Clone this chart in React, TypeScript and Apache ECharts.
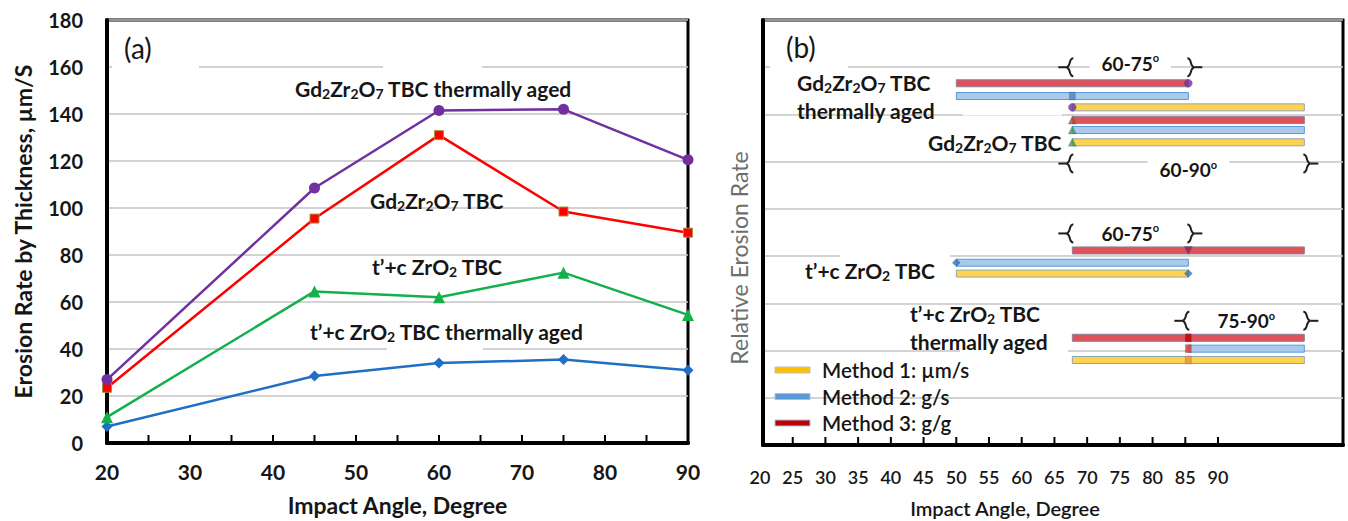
import React, { useEffect, useRef } from 'react';
import * as echarts from 'echarts';

// ---------- Panel (a) data ----------
const anglesA = [20, 45, 60, 75, 90];
const gdAged = [27, 108.5, 141.5, 142, 120.5];
const gdTbc = [23.5, 95.5, 131, 98.5, 89.5];
const ztTbc = [11, 64.5, 62, 72.5, 54.5];
const ztAged = [7, 28.5, 34, 35.5, 31];
const tickAnglesA = [25, 30, 35, 40, 45, 50, 55, 60, 65, 70, 75, 80, 85];

// ---------- Panel (b) data ----------
const barStart = [45, 45, 60, 60, 60, 60, 60, 45, 45, 60, 75, 60];
const barEnd = [75, 75, 90, 90, 90, 90, 90, 75, 75, 90, 90, 90];
const barLevel = [7.66, 7.39, 7.15, 6.88, 6.67, 6.41, 4.12, 3.86, 3.63, 2.27, 2.04, 1.8];
const barMethod = [3, 2, 1, 3, 2, 1, 3, 2, 1, 3, 2, 1];
const tickAnglesB = [25, 30, 35, 40, 45, 50, 55, 60, 65, 70, 75, 80, 85, 90];

const markX = [75, 60, 60, 60, 60, 60, 75, 45, 75, 75, 75, 75];
const markY = [7.66, 7.39, 7.15, 6.88, 6.67, 6.41, 4.12, 3.86, 3.63, 2.27, 2.04, 1.8];
const markShape = ['circle', 'rect', 'circle', 'triangle', 'triangle', 'triangle', 'triangle', 'diamond', 'diamond', 'rect', 'rect', 'rect'];
const markColor = ['#7030A0', '#4F81C7', '#7030A0', '#A0522D', '#3C9A5F', '#3C9A5F', '#7B2D5E', '#2E75B6', '#2E75B6', '#C00000', '#E03030', '#E8923C'];

const bracketFrom = [60, 60, 60, 75];
const bracketTo = [75, 90, 75, 90];
const bracketLevel = [8.0, 5.96, 4.48, 2.63];
const bracketText = ['60-75', '60-90', '60-75', '75-90'];
const bracketTextDy = [-4, 6, 0, 0];

const methodNames = ['Method 1: µm/s', 'Method 2: g/s', 'Method 3: g/g'];
const methodFill = ['#FFD34D', '#A9CAEC', '#E0525A'];
const methodStroke = ['#8EA6BF', '#5B9BD5', '#8E7F9A'];
const legendFill = ['#FFC000', '#5B9BD5', '#C00000'];
const legendStroke = ['#BFBFBF', '#9DC3E6', '#9DC3E6'];

const FONT = 'Lato, "Open Sans", sans-serif';
const INK = '#161616';

const richLabel = (size: number) => ({
  s: { fontSize: Math.round(size * 0.68), fontWeight: 'bold', fontFamily: FONT, fill: INK, lineHeight: 14, verticalAlign: 'bottom' },
});

function label(text: string, x: number, y: number, size = 21) {
  return {
    type: 'text',
    x,
    y,
    z: 20,
    style: {
      text,
      fontSize: size,
      fontWeight: 'bold',
      fontFamily: FONT,
      fill: INK,
      align: 'left',
      verticalAlign: 'middle',
      lineHeight: 24,
      rich: richLabel(size),
    },
  };
}

function gap(x0: number, x1: number, y: number) {
  return { type: 'rect', z: 5, shape: { x: x0, y: y - 2.5, width: x1 - x0, height: 5 }, style: { fill: '#fff' } };
}

function tickSeries(values: number[], axisIndex: number) {
  return {
    type: 'custom',
    name: 'ticks' + axisIndex,
    xAxisIndex: axisIndex,
    yAxisIndex: axisIndex,
    z: 8,
    clip: false,
    silent: true,
    data: values.map((v) => [v, 0]),
    renderItem: (params: any, api: any) => {
      const p = api.coord([api.value(0), 0]);
      return {
        type: 'line',
        shape: { x1: p[0], y1: p[1] - 1, x2: p[0], y2: p[1] - 8 },
        style: { stroke: '#000', lineWidth: 2 },
      };
    },
  };
}

export default function App() {
  const ref = useRef<HTMLDivElement>(null);
  useEffect(() => {
    if (!ref.current) return;
    const chart = echarts.init(ref.current, undefined, { renderer: 'svg' });

    const lineSeries = (name: string, vals: number[], color: string, symbol: string, size: number, extra: any = {}) => ({
      name,
      type: 'line',
      xAxisIndex: 0,
      yAxisIndex: 0,
      data: anglesA.map((a, i) => [a, vals[i]]),
      symbol,
      symbolSize: size,
      lineStyle: { color, width: 2.5 },
      itemStyle: { color, ...extra },
      clip: false,
    });

    const legendGraphics: any[] = [];
    methodNames.forEach((n, i) => {
      const y = 370 + i * 26.5;
      legendGraphics.push({ type: 'rect', z: 20, shape: { x: 775, y: y - 3, width: 35, height: 6 }, style: { fill: legendFill[i], stroke: legendStroke[i], lineWidth: 1 } });
      legendGraphics.push({ type: 'text', z: 20, x: 822, y, style: { text: n, fontSize: 20.5, fontWeight: 600, fontFamily: FONT, fill: INK, align: 'left', verticalAlign: 'middle' } });
    });

    const option: any = {
      animation: false,
      backgroundColor: '#fff',
      grid: [
        { left: 107, top: 20, width: 581, height: 424, show: true, borderColor: '#000', borderWidth: 3, backgroundColor: 'transparent' },
        { left: 763, top: 20, width: 580, height: 425, show: true, borderColor: '#000', borderWidth: 3, backgroundColor: 'transparent' },
        { left: 760, top: 20, width: 458, height: 425 },
      ],
      xAxis: [
        {
          gridIndex: 0, type: 'value', min: 20, max: 90, interval: 5,
          axisLine: { show: true, lineStyle: { color: '#000', width: 4 } },
          axisTick: { show: false },
          axisLabel: { formatter: (v: number) => (v % 10 === 0 ? String(v) : ''), margin: 18, fontFamily: FONT, fontWeight: 'bold', fontSize: 21, color: INK },
          splitLine: { show: false },
          name: 'Impact Angle, Degree', nameLocation: 'middle', nameGap: 50,
          nameTextStyle: { fontFamily: FONT, fontWeight: 'bold', fontSize: 23, color: INK },
        },
        {
          gridIndex: 1, type: 'value', min: 20, max: 95,
          axisLine: { show: true, lineStyle: { color: '#000', width: 4 } },
          axisTick: { show: false }, axisLabel: { show: false }, splitLine: { show: false },
        },
        {
          gridIndex: 2, type: 'value', min: 20, max: 90, interval: 5,
          axisLine: { show: false },
          axisTick: { show: false },
          axisLabel: { margin: 23, fontFamily: FONT, fontWeight: 600, fontSize: 18, color: INK },
          splitLine: { show: false },
        },
      ],
      yAxis: [
        {
          gridIndex: 0, type: 'value', min: 0, max: 180, interval: 20,
          axisLine: { show: true, lineStyle: { color: '#000', width: 4 } },
          axisTick: { show: false },
          axisLabel: { margin: 24, fontFamily: FONT, fontWeight: 'bold', fontSize: 20, color: INK },
          splitLine: { show: true, lineStyle: { color: '#c4c4c4', width: 1.5 } },
          name: 'Erosion Rate by Thickness, µm/S', nameLocation: 'middle', nameGap: 73,
          nameTextStyle: { fontFamily: FONT, fontWeight: 'bold', fontSize: 23, color: INK },
        },
        {
          gridIndex: 1, type: 'value', min: 0, max: 9, interval: 1,
          axisLine: { show: true, lineStyle: { color: '#000', width: 4 } },
          axisTick: { show: false }, axisLabel: { show: false },
          splitLine: { show: true, lineStyle: { color: '#c4c4c4', width: 1.5 } },
        },
        {
          gridIndex: 2, type: 'value', min: 0, max: 9,
          axisLine: { show: false }, axisTick: { show: false }, axisLabel: { show: false }, splitLine: { show: false },
        },
      ],
      series: [
        tickSeries(tickAnglesA, 0),
        tickSeries(tickAnglesB, 2),
        lineSeries("t'+c ZrO2 TBC thermally aged", ztAged, '#1F6FC5', 'diamond', 11),
        lineSeries("t'+c ZrO2 TBC", ztTbc, '#13B04B', 'triangle', 12),
        lineSeries('Gd2Zr2O7 TBC', gdTbc, '#FF0000', 'rect', 9, { borderColor: '#A89040', borderWidth: 1 }),
        lineSeries('Gd2Zr2O7 TBC thermally aged', gdAged, '#7030A0', 'circle', 11),
        {
          type: 'custom',
          name: 'ranges',
          xAxisIndex: 1,
          yAxisIndex: 1,
          data: barStart.map((s, i) => [s, barEnd[i], barLevel[i], barMethod[i]]),
          encode: { x: [0, 1], y: 2 },
          renderItem: (params: any, api: any) => {
            const p0 = api.coord([api.value(0), api.value(2)]);
            const p1 = api.coord([api.value(1), api.value(2)]);
            const m = api.value(3) - 1;
            return {
              type: 'rect',
              shape: { x: p0[0], y: p0[1] - 3.5, width: p1[0] - p0[0], height: 7 },
              style: { fill: methodFill[m], stroke: methodStroke[m], lineWidth: 1 },
            };
          },
        },
        {
          type: 'scatter',
          name: 'markers',
          xAxisIndex: 1,
          yAxisIndex: 1,
          symbolSize: 8,
          z: 4,
          data: markX.map((x, i) => ({
            value: [x, markY[i]],
            symbol: markShape[i],
            symbolRotate: i === 6 ? 180 : 0,
            symbolSize: markShape[i] === 'rect' ? [6, 8] : 8,
            itemStyle: { color: markColor[i], borderColor: 'rgba(60,60,90,0.5)', borderWidth: 0.5 },
          })),
        },
        {
          type: 'custom',
          name: 'brackets',
          xAxisIndex: 1,
          yAxisIndex: 1,
          z: 6,
          data: bracketFrom.map((f, i) => [f, bracketTo[i], bracketLevel[i], i]),
          encode: { x: [0, 1], y: 2 },
          renderItem: (params: any, api: any) => {
            const idx = api.value(3);
            const a = api.coord([api.value(0), api.value(2)]);
            const b = api.coord([api.value(1), api.value(2)]);
            const y = a[1];
            const xl = a[0];
            const xr = b[0];
            const st = { stroke: '#1e1e1e', lineWidth: 2, fill: null };
            return {
              type: 'group',
              children: [
                { type: 'line', shape: { x1: xl - 14, y1: y, x2: xl - 6, y2: y }, style: st },
                { type: 'bezierCurve', shape: { x1: xl + 1, y1: y - 9, cpx1: xl - 4, cpy1: y - 9, cpx2: xl - 1, cpy2: y - 1, x2: xl - 6, y2: y }, style: st },
                { type: 'bezierCurve', shape: { x1: xl - 6, y1: y, cpx1: xl - 1, cpy1: y + 1, cpx2: xl - 4, cpy2: y + 9, x2: xl + 1, y2: y + 9 }, style: st },
                { type: 'line', shape: { x1: xr + 6, y1: y, x2: xr + 14, y2: y }, style: st },
                { type: 'bezierCurve', shape: { x1: xr - 1, y1: y - 9, cpx1: xr + 4, cpy1: y - 9, cpx2: xr + 1, cpy2: y - 1, x2: xr + 6, y2: y }, style: st },
                { type: 'bezierCurve', shape: { x1: xr + 6, y1: y, cpx1: xr + 1, cpy1: y + 1, cpx2: xr + 4, cpy2: y + 9, x2: xr - 1, y2: y + 9 }, style: st },
                {
                  type: 'text',
                  x: (xl + xr) / 2,
                  y: y + bracketTextDy[idx],
                  style: {
                    text: bracketText[idx] + '{o|o}',
                    fontSize: 19, fontWeight: 'bold', fontFamily: FONT, fill: INK,
                    align: 'center', verticalAlign: 'middle',
                    backgroundColor: '#fff', padding: [1, 12],
                    lineHeight: 22,
                    rich: { o: { fontSize: 11, fontWeight: 'bold', fontFamily: FONT, fill: INK, lineHeight: 12, verticalAlign: 'top' } },
                  },
                },
              ],
            };
          },
        },
      ],
      graphic: [
        // gridline interruptions (text boxes)
        gap(112, 199, 67), gap(383, 482, 67), gap(387, 483, 350),
        gap(770, 848, 66), gap(963, 1062, 113), gap(840, 950, 256), gap(960, 1068, 350),
        { type: 'text', z: 20, x: 124, y: 48, style: { text: '(a)', fontSize: 28, fontFamily: FONT, fill: INK, align: 'left', verticalAlign: 'middle' } },
        { type: 'text', z: 20, x: 786, y: 47, style: { text: '(b)', fontSize: 28, fontFamily: FONT, fill: INK, align: 'left', verticalAlign: 'middle' } },
        label('Gd{s|2}Zr{s|2}O{s|7} TBC thermally aged', 295, 88),
        label('Gd{s|2}Zr{s|2}O{s|7} TBC', 370, 200),
        label('t\u2019+c ZrO{s|2} TBC', 372, 266),
        label('t\u2019+c ZrO{s|2} TBC thermally aged', 310, 331),
        label('Gd{s|2}Zr{s|2}O{s|7} TBC', 797, 82),
        label('thermally aged', 797, 110),
        label('Gd{s|2}Zr{s|2}O{s|7} TBC', 928, 142),
        label('t\u2019+c ZrO{s|2} TBC', 805, 270),
        label('t\u2019+c ZrO{s|2} TBC', 910, 313),
        label('thermally aged', 910, 341),
        ...legendGraphics,
        { type: 'text', z: 20, x: 1005, y: 508, style: { text: 'Impact Angle, Degree', fontSize: 20, fontWeight: 600, fontFamily: FONT, fill: INK, align: 'center', verticalAlign: 'middle' } },
        { type: 'text', z: 20, x: 739, y: 258, rotation: Math.PI / 2, style: { text: 'Relative Erosion Rate', fontSize: 23, fontFamily: FONT, fill: '#6e6e6e', align: 'center', verticalAlign: 'middle' } },
      ],
    };
    chart.setOption(option);
    return () => chart.dispose();
  }, []);
  return <div ref={ref} style={{ position: 'absolute', left: 0, top: 0, width: 1348, height: 521 }} />;
}
